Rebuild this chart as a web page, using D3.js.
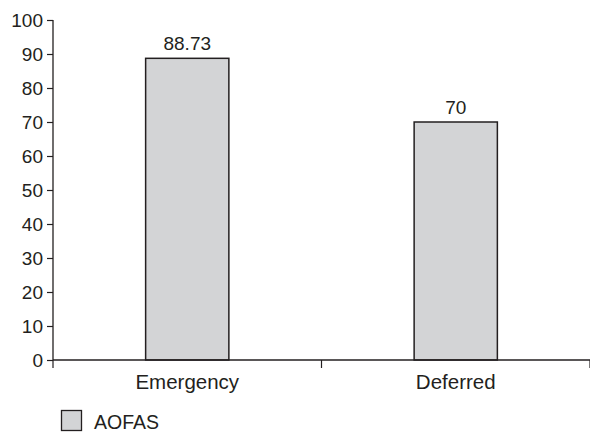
<!DOCTYPE html>
<html><head><meta charset="utf-8">
<script src="https://cdn.jsdelivr.net/npm/d3@7"></script>
<style>body{margin:0;background:#fff}svg{display:block}text{font-family:"Liberation Sans",Arial,sans-serif;fill:#231f20}</style>
</head><body>
<script>
const categories = ["Emergency", "Deferred"];
const values = [88.73, 70];
const valueLabels = ["88.73", "70"];
const yTicks = [0,10,20,30,40,50,60,70,80,90,100];
const seriesName = "AOFAS";

const W=590,H=434;
const svg=d3.select("body").append("svg").attr("width",W).attr("height",H);
const x0=53,x1=590,yTop=20,yBot=360;
const x=d3.scaleBand().domain(categories).range([x0,x1]).paddingInner(0.69).paddingOuter(0.345);
const y=d3.scaleLinear().domain([0,100]).range([yBot,yTop]);
const ink="#231f20";

// bars
svg.selectAll("rect.bar").data(values).join("rect").attr("class","bar")
  .attr("x",(d,i)=>x(categories[i])).attr("width",x.bandwidth())
  .attr("y",d=>y(d)).attr("height",d=>yBot-y(d))
  .attr("fill","#d3d4d6").attr("stroke",ink).attr("stroke-width",1.5);

// y axis
const ya=svg.append("g").attr("transform",`translate(${x0},0)`)
  .call(d3.axisLeft(y).tickValues(yTicks).tickSize(6).tickPadding(4).tickFormat(d3.format("d")));
ya.select(".domain").attr("stroke",ink).attr("stroke-width",1.3).attr("d",`M0,${yTop}V${yBot}`);
ya.selectAll(".tick line").attr("stroke",ink).attr("stroke-width",1.2);
ya.selectAll(".tick text").attr("font-size",19).attr("fill",ink).attr("dy","0.35em");

// x axis
svg.append("line").attr("x1",x0).attr("x2",x1).attr("y1",yBot).attr("y2",yBot).attr("stroke",ink).attr("stroke-width",1.3);
const bounds=[x0, (x(categories[0])+x.bandwidth()+x(categories[1]))/2, x1];
svg.selectAll("line.ct").data(bounds).join("line").attr("class","ct")
  .attr("x1",d=>d).attr("x2",d=>d).attr("y1",yBot).attr("y2",yBot+8).attr("stroke",ink).attr("stroke-width",1.2);
svg.selectAll("text.cat").data(categories).join("text").attr("class","cat")
  .attr("x",d=>x(d)+x.bandwidth()/2).attr("y",389).attr("text-anchor","middle").attr("font-size",20.5).text(d=>d);

// value labels
svg.selectAll("text.val").data(values).join("text").attr("class","val")
  .attr("x",(d,i)=>x(categories[i])+x.bandwidth()/2).attr("y",d=>y(d)-8)
  .attr("text-anchor","middle").attr("font-size",19).text((d,i)=>valueLabels[i]);

// legend
svg.append("rect").attr("x",61.5).attr("y",410.5).attr("width",20).attr("height",20)
  .attr("fill","#d3d4d6").attr("stroke",ink).attr("stroke-width",1.3);
svg.append("text").attr("x",94).attr("y",429).attr("font-size",19.5).text(seriesName);
</script>
</body></html>
